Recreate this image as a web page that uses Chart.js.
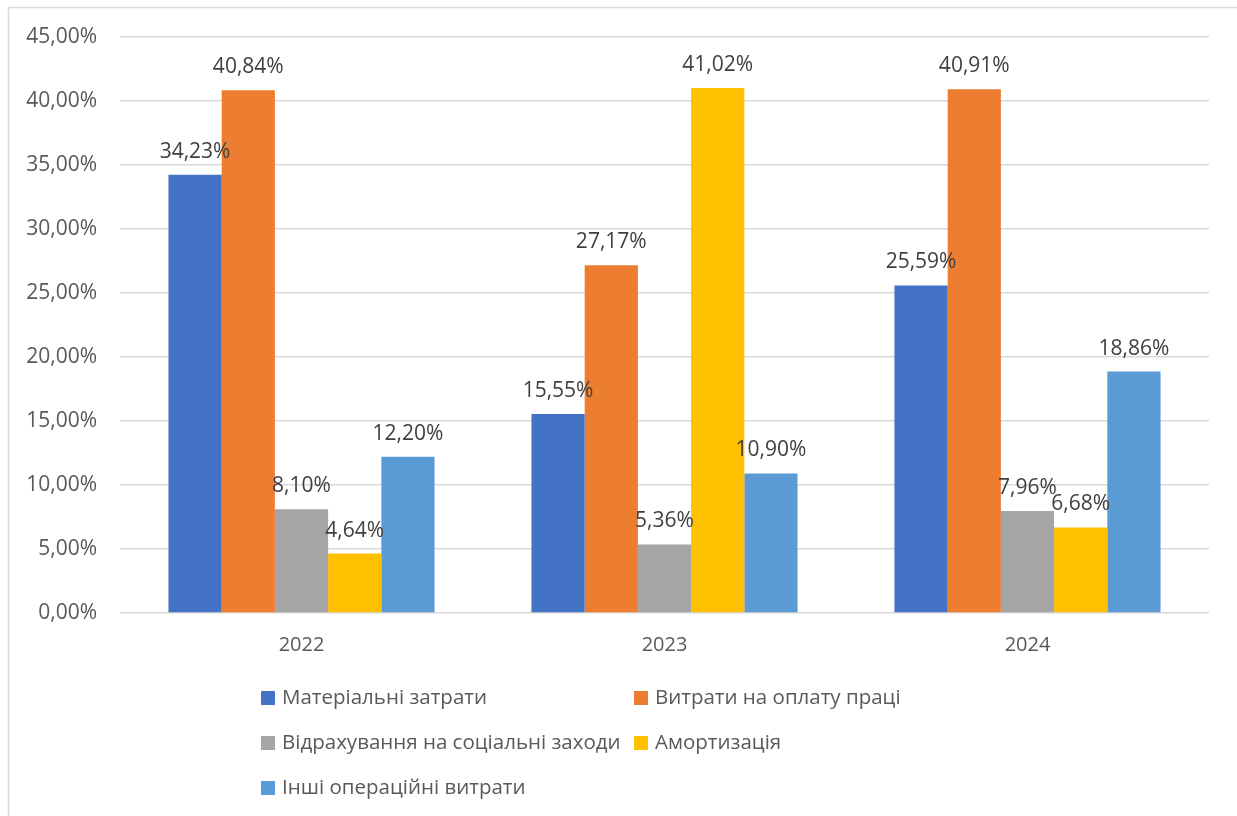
<!DOCTYPE html>
<html lang="uk">
<head>
    <meta charset="UTF-8">
    <title>Структура операційних витрат</title>
    <script src="https://cdn.jsdelivr.net/npm/chart.js"></script>
    <style>
        html, body {
            margin: 0;
            padding: 0;
            background: #fff;
        }
        .chart-wrap {
            position: relative;
            width: 1237px;
            height: 816px;
        }
    </style>
</head>
<body>
    <div class="chart-wrap">
        <canvas id="costChart"></canvas>
    </div>

    <script>
        // Роки та частки статей витрат, %
        const years = ['2022', '2023', '2024'];
        const seriesNames = [
            'Матеріальні затрати',
            'Витрати на оплату праці',
            'Відрахування на соціальні заходи',
            'Амортизація',
            'Інші операційні витрати'
        ];
        const materialCosts = [34.23, 15.55, 25.59];
        const laborCosts = [40.84, 27.17, 40.91];
        const socialCharges = [8.10, 5.36, 7.96];
        const depreciation = [4.64, 41.02, 6.68];
        const otherCosts = [12.20, 10.90, 18.86];
        const yTicks = [0, 5, 10, 15, 20, 25, 30, 35, 40, 45];

        const colors = ['#4472C4', '#ED7D31', '#A5A5A5', '#FFC000', '#5B9BD5'];
        const FONT = '"Open Sans", "Noto Sans", sans-serif';

        const fmt = v => v.toFixed(2).replace('.', ',') + '%';

        const seriesValues = [materialCosts, laborCosts, socialCharges, depreciation, otherCosts];

        // Підписи значень над стовпчиками
        const valueLabels = {
            id: 'valueLabels',
            afterDatasetsDraw(chart) {
                const ctx = chart.ctx;
                ctx.save();
                ctx.font = '21px ' + FONT;
                ctx.fillStyle = '#404040';
                ctx.textAlign = 'center';
                ctx.textBaseline = 'alphabetic';
                chart.data.datasets.forEach((ds, i) => {
                    chart.getDatasetMeta(i).data.forEach((bar, j) => {
                        ctx.fillText(fmt(ds.data[j]), bar.x, bar.y - 17);
                    });
                });
                ctx.restore();
            }
        };

        // Легенда у дві колонки під діаграмою + рамка
        const gridLegend = {
            id: 'gridLegend',
            afterDraw(chart) {
                const ctx = chart.ctx;
                ctx.save();
                ctx.strokeStyle = '#d9d9d9';
                ctx.lineWidth = 1.5;
                ctx.strokeRect(8.5, 7.5, 1240, 820);

                const colX = [261, 634];
                const rowY = [698, 743, 788];
                ctx.font = '20.5px ' + FONT;
                ctx.textBaseline = 'middle';
                ctx.textAlign = 'left';
                chart.data.datasets.forEach((ds, i) => {
                    const x = colX[i % 2];
                    const y = rowY[Math.floor(i / 2)];
                    ctx.fillStyle = ds.backgroundColor;
                    ctx.fillRect(x, y - 7, 14, 14);
                    ctx.fillStyle = '#595959';
                    ctx.fillText(ds.label, x + 21, y);
                });
                ctx.restore();
            }
        };

        new Chart(document.getElementById('costChart'), {
            type: 'bar',
            data: {
                labels: years,
                datasets: seriesNames.map((name, i) => ({
                    label: name,
                    data: seriesValues[i],
                    backgroundColor: colors[i],
                    borderWidth: 0,
                    barPercentage: 1,
                    categoryPercentage: 0.733
                }))
            },
            options: {
                responsive: true,
                maintainAspectRatio: false,
                animation: false,
                layout: {
                    padding: { top: 37, right: 28, bottom: 0, left: 0 }
                },
                plugins: {
                    legend: { display: false },
                    tooltip: { enabled: false }
                },
                scales: {
                    x: {
                        grid: { display: false, drawTicks: false },
                        border: { display: false },
                        ticks: {
                            color: '#595959',
                            font: { family: FONT, size: 20 },
                            padding: 20
                        },
                        afterFit(scale) {
                            scale.height = 203;
                        }
                    },
                    y: {
                        min: 0,
                        max: 45,
                        afterBuildTicks(scale) {
                            scale.ticks = yTicks.map(v => ({ value: v }));
                        },
                        grid: {
                            color: '#d9d9d9',
                            lineWidth: 1.5,
                            drawTicks: false
                        },
                        border: { display: false },
                        ticks: {
                            color: '#595959',
                            font: { family: FONT, size: 21 },
                            padding: 23,
                            callback: v => fmt(v)
                        },
                        afterFit(scale) {
                            scale.width = 120;
                        }
                    }
                }
            },
            plugins: [valueLabels, gridLegend]
        });
    </script>
</body>
</html>
